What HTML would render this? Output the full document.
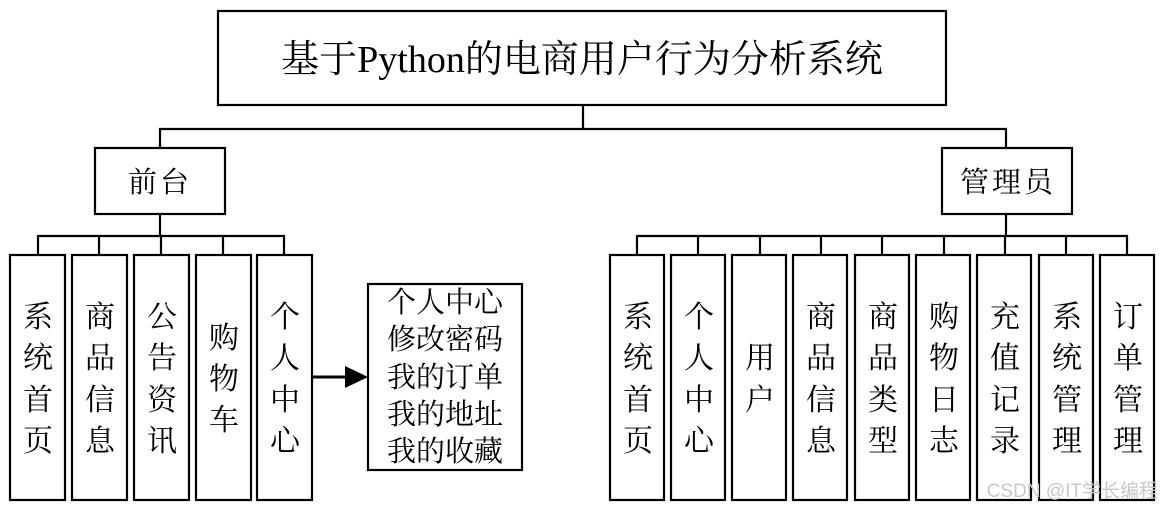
<!DOCTYPE html>
<html><head><meta charset="utf-8"><style>
html,body{margin:0;padding:0;background:#fff;width:1164px;height:507px;overflow:hidden}
text{font-family:"Liberation Serif","Noto Serif CJK SC",serif;fill:#000}
</style></head><body>
<svg width="1164" height="507" viewBox="0 0 1164 507" xmlns="http://www.w3.org/2000/svg">
<g fill="#fff" stroke="#000" stroke-width="2.2">
<rect x="218" y="11" width="728" height="94"/>
<rect x="95" y="148" width="130" height="66"/>
<rect x="942" y="148" width="130" height="66"/>
<rect x="368" y="284" width="154" height="186"/>
</g>
<g stroke="#000" stroke-width="2.2" fill="none">
<path d="M583 105V129M160 148V129H1006V148"/>
<path d="M160 214V236M38 254V236H284V254M99 236V254M161 236V254M223 236V254"/>
<path d="M1006 214V236M637 254V236H1127V254M698 236V254M760 236V254M821 236V254M882 236V254M944 236V254M1005 236V254M1066 236V254"/>
<path d="M312 377H346" stroke-width="3"/>
</g>
<polygon points="345,366 368,377 345,388" fill="#000"/>
<g fill="#fff" stroke="#000" stroke-width="2.2">
<rect x="10" y="255" width="55" height="245"/>
<rect x="72" y="255" width="55" height="245"/>
<rect x="134" y="255" width="55" height="245"/>
<rect x="196" y="255" width="55" height="245"/>
<rect x="257" y="255" width="55" height="245"/>
<rect x="610" y="255" width="54" height="245"/>
<rect x="671" y="255" width="54" height="245"/>
<rect x="732" y="255" width="54" height="245"/>
<rect x="793" y="255" width="54" height="245"/>
<rect x="855" y="255" width="54" height="245"/>
<rect x="916" y="255" width="54" height="245"/>
<rect x="977" y="255" width="54" height="245"/>
<rect x="1039" y="255" width="54" height="245"/>
<rect x="1100" y="255" width="54" height="245"/>
</g>
<text x="582" y="72" font-size="38" text-anchor="middle">基于Python的电商用户行为分析系统</text>
<text x="160" y="192" font-size="29" text-anchor="middle" letter-spacing="3">前台</text>
<text x="1008" y="192" font-size="29" text-anchor="middle" letter-spacing="3">管理员</text>
<g font-size="29" text-anchor="middle">
<text x="445" y="312">个人中心</text>
<text x="445" y="349">修改密码</text>
<text x="445" y="387">我的订单</text>
<text x="445" y="424">我的地址</text>
<text x="445" y="461">我的收藏</text>
</g>
<g font-size="30" text-anchor="middle">
<text x="38" y="327">系</text><text x="38" y="368">统</text><text x="38" y="410">首</text><text x="38" y="451">页</text>
<text x="100" y="327">商</text><text x="100" y="368">品</text><text x="100" y="410">信</text><text x="100" y="451">息</text>
<text x="162" y="327">公</text><text x="162" y="368">告</text><text x="162" y="410">资</text><text x="162" y="451">讯</text>
<text x="224" y="348">购</text><text x="224" y="389">物</text><text x="224" y="430">车</text>
<text x="285" y="327">个</text><text x="285" y="368">人</text><text x="285" y="410">中</text><text x="285" y="451">心</text>
<text x="638" y="327">系</text><text x="638" y="368">统</text><text x="638" y="410">首</text><text x="638" y="451">页</text>
<text x="699" y="327">个</text><text x="699" y="368">人</text><text x="699" y="410">中</text><text x="699" y="451">心</text>
<text x="760" y="368">用</text><text x="760" y="410">户</text>
<text x="821" y="327">商</text><text x="821" y="368">品</text><text x="821" y="410">信</text><text x="821" y="451">息</text>
<text x="883" y="327">商</text><text x="883" y="368">品</text><text x="883" y="410">类</text><text x="883" y="451">型</text>
<text x="944" y="327">购</text><text x="944" y="368">物</text><text x="944" y="410">日</text><text x="944" y="451">志</text>
<text x="1005" y="327">充</text><text x="1005" y="368">值</text><text x="1005" y="410">记</text><text x="1005" y="451">录</text>
<text x="1067" y="327">系</text><text x="1067" y="368">统</text><text x="1067" y="410">管</text><text x="1067" y="451">理</text>
<text x="1128" y="327">订</text><text x="1128" y="368">单</text><text x="1128" y="410">管</text><text x="1128" y="451">理</text>
</g>
<text x="1158" y="497" font-size="19" text-anchor="end" style="font-family:'Liberation Sans','Noto Sans CJK SC',sans-serif;fill:#c8c8c8">CSDN @IT学长编程</text>
</svg>
</body></html>
